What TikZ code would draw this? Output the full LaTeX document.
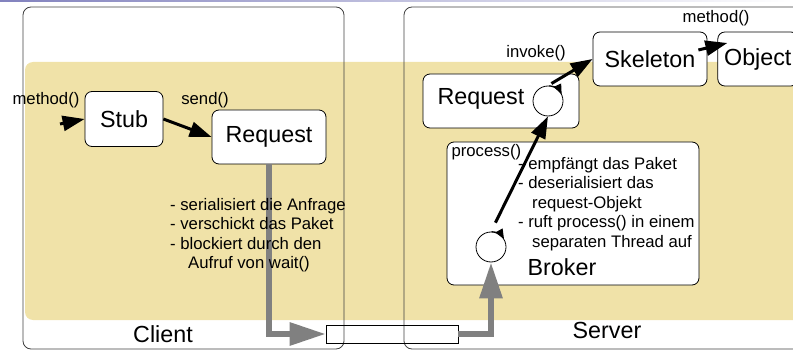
\documentclass[tikz,border=0pt]{standalone}
\usepackage{fontspec}
\setmainfont{Liberation Sans}
\usetikzlibrary{arrows.meta}
\usetikzlibrary{positioning}

\definecolor{sand}{RGB}{240,226,168}
\definecolor{pipegray}{RGB}{128,128,128}
\definecolor{headblue}{RGB}{130,130,190}

\begin{document}
\begin{tikzpicture}[x=1pt, y=-1pt,
    big/.style={font=\fontsize{23.3}{28}\selectfont},
    small/.style={font=\fontsize{16.7}{19.5}\selectfont},
    obj/.style={rectangle, rounded corners=7pt, draw=black, line width=0.8pt, fill=white, inner sep=0pt},
    host/.style={rounded corners=8pt, draw=black!75, line width=0.8pt},
    call/.style={-{Triangle[length=22pt, width=15pt]}, line width=3pt},
    pipe/.style={-{Triangle[length=36pt, width=22pt]}, line width=6pt, draw=pipegray},
    spin/.style={-{Triangle[length=10pt, width=8pt]}, line width=1pt},
    thread/.style={circle, draw=black, line width=0.8pt, fill=white, minimum size=30pt, inner sep=0pt}]
    \useasboundingbox (0,0) rectangle (793,350);
    \clip (0,0) rectangle (793,350);

    % top strip and sand background
    \shade[left color=headblue, right color=white] (0,0) rectangle (793,1.5);
    \fill[sand, rounded corners=8pt] (25,62) rectangle (820,320);

    % the two hosts
    \draw[host] (23,7) rectangle (344,349);
    \draw[host] (404,7) rectangle (830,349);
    \node[big, anchor=base] (client) at (163,342) {Client};
    \node[big, anchor=base] (server) at (607,338) {Server};

    % network packet
    \node[draw=black, line width=0.6pt, minimum width=132pt, minimum height=18pt, inner sep=0pt] (pkt) at (392,334) {};

    % client side
    \node[obj, big, minimum width=78pt, minimum height=55pt] (stub) at (124,119) {Stub};
    \node[obj, big, minimum width=114pt, minimum height=54pt] (reqc) at (269,137) {Request};

    % server side
    \node[obj, minimum width=156pt, minimum height=54pt] (reqs) at (501,101) {};
    \node[big, anchor=west] (reqslbl) at (434,99) {Request};
    \node[thread] (reqth) at (548,101) {};
    \node[obj, big, minimum width=114pt, minimum height=54pt] (skel) at (650,59) {Skeleton};
    \node[obj, big, minimum width=80pt, minimum height=54pt, right=10pt of skel] (object) {Object};
    \node[obj, minimum width=252pt, minimum height=143pt] (brk) at (573,213.5) {};
    \node[thread] (brkth) at (491,247) {};

    % transport
    \draw[pipe] (reqc.south) |- (pkt.west);
    \draw[pipe] (pkt.east) -| (brkth.south);

    \node[small, anchor=north west] (proc) at (448,141) {process()};
    \node[big] (brklbl) at (562,267) {Broker};
    \node[small, align=left, anchor=north west, inner sep=0pt] (brknotes) at (518,157)
        {- empfängt das Paket\\- deserialisiert das\\\hspace*{14pt}request-Objekt\\- ruft process() in einem\\\hspace*{14pt}separaten Thread auf};
    \node[small, align=left, anchor=north west, inner sep=0pt] (clnotes) at (170,198)
        {- serialisiert die Anfrage\\- verschickt das Paket\\- blockiert durch den\\\hspace*{18pt}Aufruf von wait()};

    % method labels
    \node[small] (mstub) at (46,100) {method()};
    \node[small] (msend) at (205,100) {send()};
    \node[small] (minv) at (536,53) {invoke()};
    \node[small] (mobj) at (716,18) {method()};

    % calls
    \coordinate (callin) at (60,124);
    \draw[call] (callin) -- (stub.west);
    \draw[call] (stub.east) -- (reqc.west);
    \draw[call, shorten <=4pt] (reqth.north) -- (skel.west);
    \draw[call] ([xshift=-9pt, yshift=9pt]skel.east) -- ([xshift=10pt, yshift=16pt]object.west);
    \draw[call, shorten <=10pt] (brkth.north) -- (reqth.south);

    % running threads (y runs downwards, so clockwise means growing angles)
    \draw[spin] (reqth.85) arc[start angle=-85, end angle=-25, radius=15];
    \draw[spin] (brkth.88) arc[start angle=-88, end angle=-30, radius=15];
\end{tikzpicture}
\end{document}
